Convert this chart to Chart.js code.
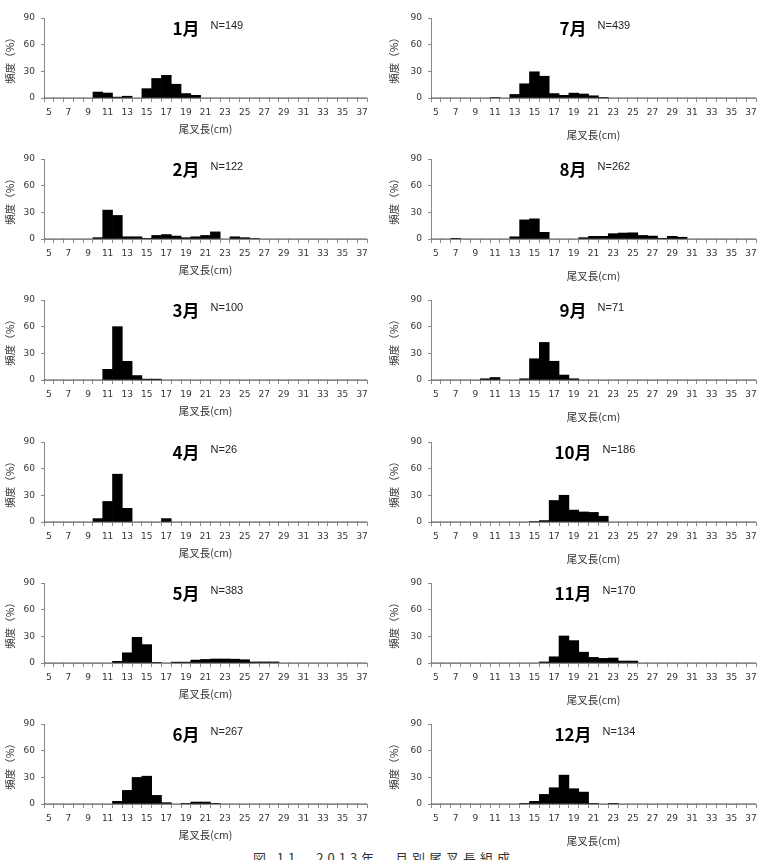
<!DOCTYPE html>
<html lang="ja">
<head>
<meta charset="UTF-8">
<title>月別尾叉長組成</title>
<script src="https://cdn.jsdelivr.net/npm/chart.js@4.4.1/dist/chart.umd.min.js"></script>
<style>
  html, body { margin: 0; padding: 0; background: #fff; }
  #page { position: relative; width: 767px; height: 860px; overflow: hidden; }
  .panel { position: absolute; }
  #caption {
    position: absolute; left: 0; top: 851px; width: 767px;
    text-align: center; font: 13px/1 'Noto Sans CJK JP', sans-serif; color: #333;
    letter-spacing: 4px;
  }
</style>
</head>
<body>
<div id="page">
  <div id="caption">図 11　2013年　月別尾叉長組成</div>
</div>
<script>
// 尾叉長 (cm) categories
const lengths = [5, 6, 7, 8, 9, 10, 11, 12, 13, 14, 15, 16, 17, 18, 19, 20, 21,
  22, 23, 24, 25, 26, 27, 28, 29, 30, 31, 32, 33, 34, 35, 36, 37];
const xTickLabels = ['5', '7', '9', '11', '13', '15', '17', '19', '21', '23', '25',
  '27', '29', '31', '33', '35', '37'];
const yTicks = [0, 30, 60, 90];

const months = ['1月', '2月', '3月', '4月', '5月', '6月', '7月', '8月', '9月', '10月', '11月', '12月'];
const sampleN = [149, 122, 100, 26, 383, 267, 439, 262, 71, 186, 170, 134];

// 頻度 (%) per month, one value per length class 5..37
const jan = [0, 0, 0, 0, 0, 6.7, 5.6, 1.0, 2.0, 0, 10.5, 22.0, 25.5, 15.5, 5.0, 3.0, 0, 0, 0, 0, 0, 0, 0, 0, 0, 0, 0, 0, 0, 0, 0, 0, 0];
const feb = [0, 0, 0, 0, 0, 1.5, 32.5, 26.5, 2.5, 2.5, 0.4, 4.0, 5.0, 3.3, 1.5, 2.5, 4.0, 8.0, 0, 2.5, 1.5, 0.5, 0, 0, 0, 0, 0, 0, 0, 0, 0, 0, 0];
const mar = [0, 0, 0, 0, 0, 0, 12, 60, 21, 5, 1, 1, 0, 0, 0, 0, 0, 0, 0, 0, 0, 0, 0, 0, 0, 0, 0, 0, 0, 0, 0, 0, 0];
const apr = [0, 0, 0, 0, 0, 3.8, 23.1, 53.8, 15.4, 0, 0, 0, 3.8, 0, 0, 0, 0, 0, 0, 0, 0, 0, 0, 0, 0, 0, 0, 0, 0, 0, 0, 0, 0];
const may = [0, 0, 0, 0, 0, 0, 0, 1.9, 11.5, 28.9, 20.7, 0.7, 0, 1.0, 1.0, 3.3, 4.0, 4.5, 4.5, 4.3, 3.7, 1.2, 1.2, 1.2, 0, 0, 0, 0, 0, 0, 0, 0, 0];
const jun = [0, 0, 0, 0, 0, 0, 0, 3.0, 15.3, 29.9, 31.3, 9.7, 1.5, 0, 0.7, 2.2, 2.2, 0.7, 0, 0, 0, 0, 0, 0, 0, 0, 0, 0, 0, 0, 0, 0, 0];
const jul = [0, 0, 0, 0, 0, 0, 0.5, 0, 4.0, 16.0, 29.5, 24.5, 5.0, 3.0, 5.5, 4.5, 2.5, 0.7, 0, 0, 0, 0, 0, 0, 0, 0, 0, 0, 0, 0, 0, 0, 0];
const aug = [0, 0, 0.4, 0, 0, 0, 0, 0, 2.5, 21.5, 22.7, 7.5, 0, 0, 0, 1.5, 3.0, 3.0, 6.0, 6.7, 7.0, 4.0, 3.3, 0.8, 3.0, 2.0, 0, 0, 0, 0, 0, 0, 0];
const sep = [0, 0, 0, 0, 0, 1.4, 2.8, 0, 0, 1.4, 23.9, 42.3, 21.1, 5.6, 1.4, 0, 0, 0, 0, 0, 0, 0, 0, 0, 0, 0, 0, 0, 0, 0, 0, 0, 0];
const oct = [0, 0, 0, 0, 0, 0, 0, 0, 0, 0, 0.5, 1.6, 24.2, 30.1, 13.4, 11.3, 10.8, 6.5, 0, 0, 0, 0, 0, 0, 0, 0, 0, 0, 0, 0, 0, 0, 0];
const nov = [0, 0, 0, 0, 0, 0, 0, 0, 0, 0, 0, 1.2, 7.0, 30.4, 25.2, 12.2, 6.3, 5.2, 5.6, 2.2, 2.2, 0, 0, 0, 0, 0, 0, 0, 0, 0, 0, 0, 0];
const dec = [0, 0, 0, 0, 0, 0, 0, 0, 0, 0.7, 3.0, 10.8, 18.3, 32.5, 17.2, 13.4, 0.7, 0, 0.4, 0, 0, 0, 0, 0, 0, 0, 0, 0, 0, 0, 0, 0, 0];

const series = [jan, feb, mar, apr, may, jun, jul, aug, sep, oct, nov, dec];

const axisColor = '#888';
const textColor = '#333';
const tickFont = { family: "'DejaVu Sans'", size: 9 };
const titleFont = { family: "'Noto Sans CJK JP'", size: 10.5 };
const rowTops = [0, 141, 282, 424, 565, 706];

// month name + N drawn inside the plot, a little left of centre
const monthLabel = {
  id: 'monthLabel',
  afterDraw(chart, args, opts) {
    const { ctx, chartArea } = chart;
    ctx.save();
    ctx.fillStyle = '#000';
    ctx.font = "bold 17px 'Noto Sans CJK JP'";
    ctx.textAlign = 'center';
    ctx.textBaseline = 'middle';
    const cx = chartArea.left + 142;
    ctx.fillText(opts.month, cx, chartArea.top + 11);
    const w = ctx.measureText(opts.month).width;
    ctx.font = "11px 'Liberation Sans'";
    ctx.fillStyle = '#222';
    ctx.textAlign = 'left';
    ctx.fillText('N=' + opts.n, cx + w / 2 + 11, chartArea.top + 8);
    ctx.restore();
  }
};

const page = document.getElementById('page');

series.forEach((values, i) => {
  const right = i >= 6;
  const box = document.createElement('div');
  box.className = 'panel';
  box.style.left = (right ? 384 : 0) + 'px';
  box.style.top = rowTops[i % 6] + 'px';
  const canvas = document.createElement('canvas');
  canvas.width = 383;
  canvas.height = 141;
  box.appendChild(canvas);
  page.appendChild(box);

  new Chart(canvas, {
    type: 'bar',
    data: {
      labels: lengths,
      datasets: [{
        data: values,
        backgroundColor: '#000',
        borderWidth: 0,
        barPercentage: 1,
        categoryPercentage: 1
      }]
    },
    options: {
      responsive: false,
      animation: false,
      layout: { padding: { top: 18, right: right ? 11 : 16, left: 0, bottom: 0 } },
      plugins: {
        legend: { display: false },
        tooltip: { enabled: false },
        monthLabel: { month: months[i], n: sampleN[i] }
      },
      scales: {
        x: {
          offset: true,
          grid: { display: true, drawOnChartArea: false, tickLength: 4, color: axisColor, offset: true },
          border: { color: axisColor, width: 1 },
          ticks: {
            autoSkip: false,
            maxRotation: 0,
            padding: 5,
            color: textColor,
            font: tickFont,
            callback: (v, idx) => xTickLabels.includes(String(lengths[idx])) ? String(lengths[idx]) : ''
          },
          title: {
            display: true,
            text: '尾叉長(cm)',
            color: textColor,
            font: titleFont,
            padding: { top: 0, bottom: right ? 0 : 6 }
          },
          afterFit: s => { s.height = 43; }
        },
        y: {
          min: 0,
          max: 90,
          afterBuildTicks: s => { s.ticks = yTicks.map(v => ({ value: v })); },
          grid: { display: true, drawOnChartArea: false, tickLength: 3, color: axisColor },
          border: { color: axisColor, width: 1 },
          ticks: { padding: 6, color: textColor, font: tickFont },
          title: {
            display: true,
            text: '頻度（%）',
            color: textColor,
            font: titleFont,
            padding: { top: 4, bottom: 0 }
          },
          afterFit: s => { s.width = right ? 47 : 44; }
        }
      }
    },
    plugins: [monthLabel]
  });
});
</script>
</body>
</html>
